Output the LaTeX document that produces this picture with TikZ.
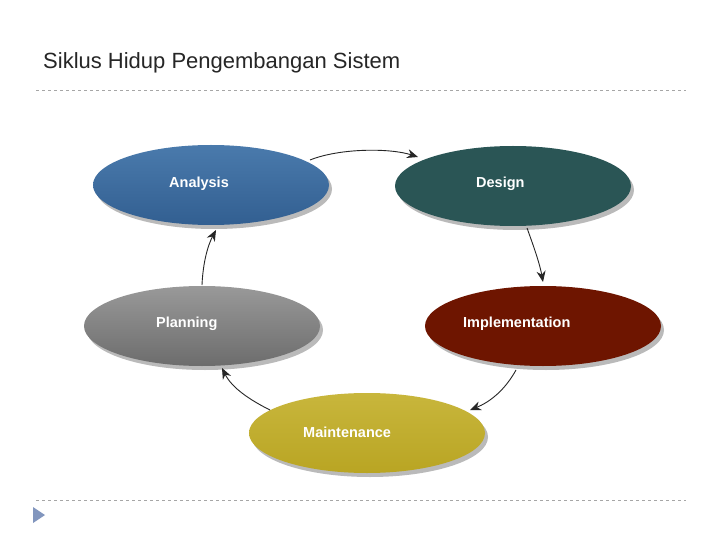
\documentclass[tikz,border=0pt]{standalone}
\usepackage{fontspec}
\setmainfont{Liberation Sans}
\usetikzlibrary{arrows.meta,shadows,shapes.geometric}
\definecolor{anT}{RGB}{74,122,172}
\definecolor{anB}{RGB}{50,95,145}
\definecolor{tri}{RGB}{130,150,190}
\begin{document}
\begin{tikzpicture}[x=1pt,y=-1pt,
  ell/.style={ellipse,minimum width=236pt,minimum height=80pt,inner sep=0pt,
    drop shadow={shadow xshift=3pt,shadow yshift=-4pt,fill=black!45,opacity=.6}},
  lab/.style={text=white,font=\bfseries\fontsize{14.5}{16}\selectfont},
  arr/.style={-{Stealth[length=11pt,width=9pt]},line width=0.9pt,color=black!85}]
\useasboundingbox (0,0) rectangle (720,540);
\fill[white] (0,0) rectangle (720,540);
\node[anchor=base west,inner sep=0pt,font=\fontsize{22}{26}\selectfont,text=black!85] (title) at (43,69) {Siklus Hidup Pengembangan Sistem};
\draw[dashed,gray!70] (36,90) -- (686,90);
\draw[dashed,gray!70] (36,500) -- (686,500);
\fill[tri] (33,507) -- (45,515) -- (33,523) -- cycle;

\node[ell,top color=anT,bottom color=anB] (an) at (211,185) {};
\node[ell,fill={rgb,255:red,42;green,85;blue,85}] (de) at (513,186) {};
\node[ell,top color=gray!80,bottom color=gray!85!black] (pl) at (202,326) {};
\node[ell,fill={rgb,255:red,110;green,21;blue,0}] (im) at (543,326) {};
\node[ell,top color={rgb,255:red,200;green,182;blue,60},bottom color={rgb,255:red,185;green,165;blue,35}] (ma) at (367,433) {};

\node[lab,anchor=west,inner sep=0pt] at (169,184) {Analysis};
\node[lab,anchor=west,inner sep=0pt] at (476,184) {Design};
\node[lab,anchor=west,inner sep=0pt] at (156,324) {Planning};
\node[lab,anchor=west,inner sep=0pt] at (463,324) {Implementation};
\node[lab,anchor=west,inner sep=0pt] at (303,432) {Maintenance};

\coordinate (a1) at (310,160);
\draw[arr] (a1) .. controls (340,148) and (390,148) .. (418,157);
\draw[arr] (527,228) .. controls (535,250) and (540,265) .. (543,282);
\draw[arr] (516,370) .. controls (505,390) and (490,402) .. (470,410);
\draw[arr] (270,410) .. controls (250,400) and (232,388) .. (222,368);
\draw[arr] (202,285) .. controls (203,262) and (208,245) .. (216,230);
\end{tikzpicture}
\end{document}
